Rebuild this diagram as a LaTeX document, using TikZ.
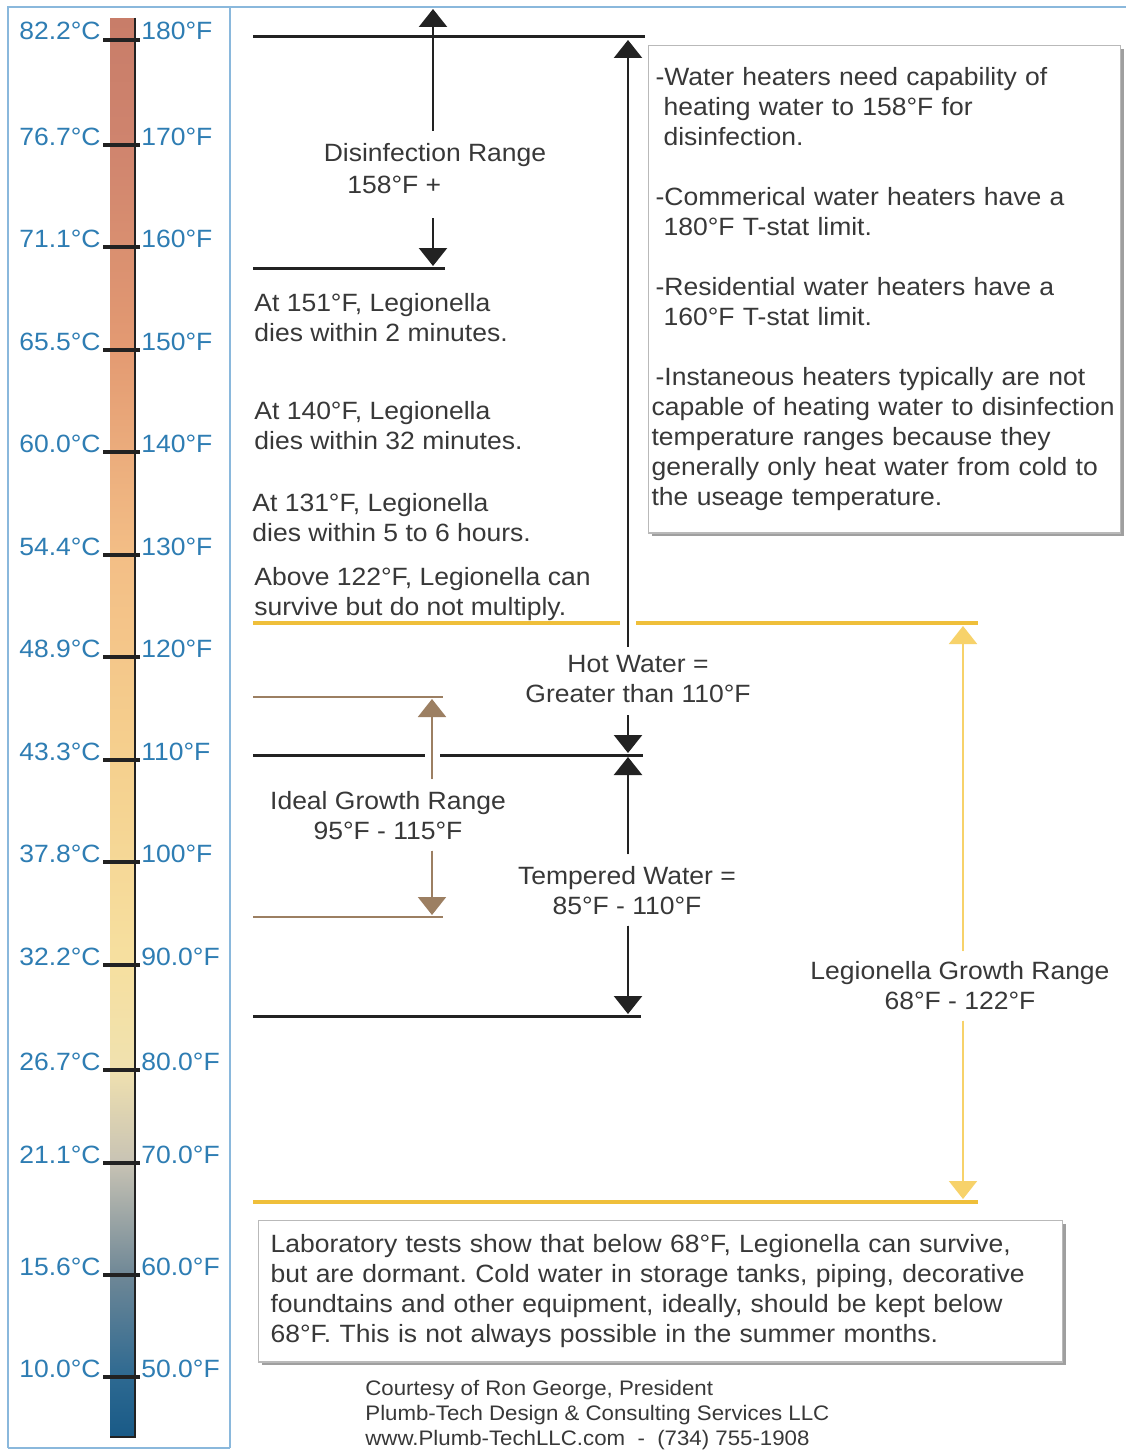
\documentclass[tikz,border=0pt]{standalone}
\usepackage{fontspec}
\setmainfont{Liberation Sans}[FakeStretch=1.06]
\usetikzlibrary{arrows.meta,positioning,shadows}
\frenchspacing

\definecolor{scaleblue}{HTML}{2E7DB3}
\definecolor{frameblue}{HTML}{8AB8DC}
\definecolor{txtgray}{HTML}{383838}
\definecolor{linegray}{HTML}{222222}
\definecolor{goldline}{HTML}{EFBF3A}
\definecolor{goldarrow}{HTML}{F7D26A}
\definecolor{tanline}{HTML}{9C7F62}
% thermometer colours, bottom to top
\definecolor{th0}{HTML}{195A87}
\definecolor{th1}{HTML}{2D6991}
\definecolor{th2}{HTML}{6E8796}
\definecolor{th3}{HTML}{C8C3B4}
\definecolor{th4}{HTML}{F0E1AF}
\definecolor{th5}{HTML}{F6E0A0}
\definecolor{th6}{HTML}{F5D08E}
\definecolor{th7}{HTML}{F3BE86}
\definecolor{th8}{HTML}{E39A72}
\definecolor{th9}{HTML}{CF846E}
\definecolor{th10}{HTML}{C87D69}
\pgfdeclareverticalshading{thermo}{100bp}{color(0bp)=(th0); color(25bp)=(th0); color(27.1bp)=(th1); color(30.7bp)=(th2); color(34.7bp)=(th3); color(38bp)=(th4); color(41.6bp)=(th5); color(48.9bp)=(th6); color(56.1bp)=(th7); color(63.4bp)=(th8); color(70.6bp)=(th9); color(75bp)=(th10); color(100bp)=(th10)}

\begin{document}
\begin{tikzpicture}[x=0.5pt, y=-0.5pt, font=\fontsize{12.5}{15}\selectfont,
  txt/.style={text=txtgray, inner sep=0pt, align=left},
  mid/.style={text=txtgray, inner sep=0pt, align=center},
  lbl/.style={text=scaleblue, inner sep=0pt},
  level/.style={line width=1.5pt, draw=linegray},
  tick/.style={line width=1.6pt, draw=linegray},
  arr/.style={-{Triangle[width=14pt,length=9pt]}, line width=1.2pt, draw=linegray, fill=linegray},
  note/.style={draw=gray!55, fill=white, line width=0.6pt, text=txtgray, align=left,
    drop shadow={shadow xshift=1.5pt, shadow yshift=-1.5pt, fill=gray!75, opacity=1}}]
\useasboundingbox (0,0) rectangle (1126,1450);
\fill[white] (0,0) rectangle (1126,1450);
% frame
\draw[frameblue, line width=0.9pt] (8,1448) -- (8,7) -- (1126,7);
\draw[frameblue, line width=0.9pt] (230,7) -- (230,1448) (8,1448) -- (230,1448);

% thermometer scale
\shade[shading=thermo] (110,19) rectangle (135,1437);
\draw[linegray, line width=1.1pt] (135,18) -- (135,1437) -- (110,1437);
\foreach \f/\c/\y in {180/82.2/40, 170/76.7/145, 160/71.1/247, 150/65.5/350, 140/60.0/452,
    130/54.4/555, 120/48.9/657, 110/43.3/760, 100/37.8/862, 90.0/32.2/965, 80.0/26.7/1070,
    70.0/21.1/1163, 60.0/15.6/1275, 50.0/10.0/1377} {
  \draw[tick] (103,\y) -- (140,\y);
  \node[lbl, anchor=base east] (c\y) at (101,\y) {\c°C};
  \node[lbl, anchor=base west] (f\y) at (141,\y) {\f°F};
}

% level lines
\draw[level] (253,37) -- (645,37);
\draw[level] (253,268) -- (445,268);
\draw[level] (253,755) -- (425,755) (440,755) -- (643,755);
\draw[level] (253,1016) -- (641,1016);
\draw[line width=1.4pt, tanline] (253,697) -- (443,697) (253,917) -- (443,917);
\draw[line width=1.6pt, goldline] (253,623) -- (620,623) (636,623) -- (978,623);
\draw[line width=1.6pt, goldline] (253,1202) -- (978,1202);

\coordinate (disTop) at (433,9);
\coordinate (disBot) at (433,266);
\coordinate (hotTop) at (628,40);
\coordinate (hotBot) at (628,753);
\coordinate (tmpTop) at (628,757);
\coordinate (tmpBot) at (628,1014);
\coordinate (idlTop) at (432,699);
\coordinate (idlBot) at (432,915);
\coordinate (legTop) at (963,626);
\coordinate (legBot) at (963,1199);

% disinfection range
\node[mid] (dis) at (435,155) {Disinfection Range};
\node[txt, anchor=west] (disVal) at (347,185) {158°F +};
\draw[arr] ([yshift=6pt]dis.north -| disTop) -- (disTop);
\draw[arr] ([yshift=-12pt]disVal.south -| disBot) -- (disBot);

% kill times
\node[txt, anchor=north west] (k151) at (254,293) {At 151°F, Legionella\\dies within 2 minutes.};
\node[txt, anchor=north west] (k140) at (254,401) {At 140°F, Legionella\\dies within 32 minutes.};
\node[txt, anchor=north west] (k131) at (252,493) {At 131°F, Legionella\\dies within 5 to 6 hours.};
\node[txt, anchor=north west] (k122) at (254,567) {Above 122°F, Legionella can\\survive but do not multiply.};

% hot / tempered water
\node[mid] (hot) at (638,679) {Hot Water =\\Greater than 110°F};
\node[mid] (tmp) at (627,891) {Tempered Water =\\85°F - 110°F};
\draw[arr] ([yshift=4pt]hot.north -| hotTop) -- (hotTop);
\draw[arr] ([yshift=-6pt]hot.south -| hotBot) -- (hotBot);
\draw[arr] ([yshift=6pt]tmp.north -| tmpTop) -- (tmpTop);
\draw[arr] ([yshift=-5pt]tmp.south -| tmpBot) -- (tmpBot);

% ideal growth range
\node[mid] (idl) at (388,816) {Ideal Growth Range\\95°F - 115°F};
\draw[arr, draw=tanline, fill=tanline, line width=1pt] ([yshift=6pt]idl.north -| idlTop) -- (idlTop);
\draw[arr, draw=tanline, fill=tanline, line width=1pt] ([yshift=-5pt]idl.south -| idlBot) -- (idlBot);

% legionella growth range
\node[mid] (leg) at (960,986) {Legionella Growth Range\\68°F - 122°F};
\draw[arr, draw=goldarrow, fill=goldarrow, line width=1pt] ([yshift=5pt]leg.north -| legTop) -- (legTop);
\draw[arr, draw=goldarrow, fill=goldarrow, line width=1pt] ([yshift=-5pt]leg.south -| legBot) -- (legBot);

% notes
\node[note, anchor=north west, text width=233pt, inner xsep=1.5pt, inner ysep=11pt] (heat) at (648,45)
  {\hspace*{2pt}-Water heaters need capability of\\
   \hspace*{6pt}heating water to 158°F for\\
   \hspace*{6pt}disinfection.\\[15pt]
   \hspace*{2pt}-Commerical water heaters have a\\
   \hspace*{6pt}180°F T-stat limit.\\[15pt]
   \hspace*{2pt}-Residential water heaters have a\\
   \hspace*{6pt}160°F T-stat limit.\\[15pt]
   \hspace*{2pt}-Instaneous heaters typically are not\\
   capable of heating water to disinfection\\
   temperature ranges because they\\
   generally only heat water from cold to\\
   the useage temperature.};
\node[note, anchor=north west, text width=390pt, inner xsep=6pt, inner ysep=7pt] (lab) at (258,1220)
  {Laboratory tests show that below 68°F, Legionella can survive,\\
   but are dormant. Cold water in storage tanks, piping, decorative\\
   foundtains and other equipment, ideally, should be kept below\\
   68°F. This is not always possible in the summer months.};

% credit
\node[txt, anchor=north west, font=\fontsize{10.5}{12.5}\selectfont] (credit) at (365,1380)
  {Courtesy of Ron George, President\\
   Plumb-Tech Design \& Consulting Services LLC\\
   www.Plumb-TechLLC.com \ - \ (734) 755-1908};
\end{tikzpicture}
\end{document}
